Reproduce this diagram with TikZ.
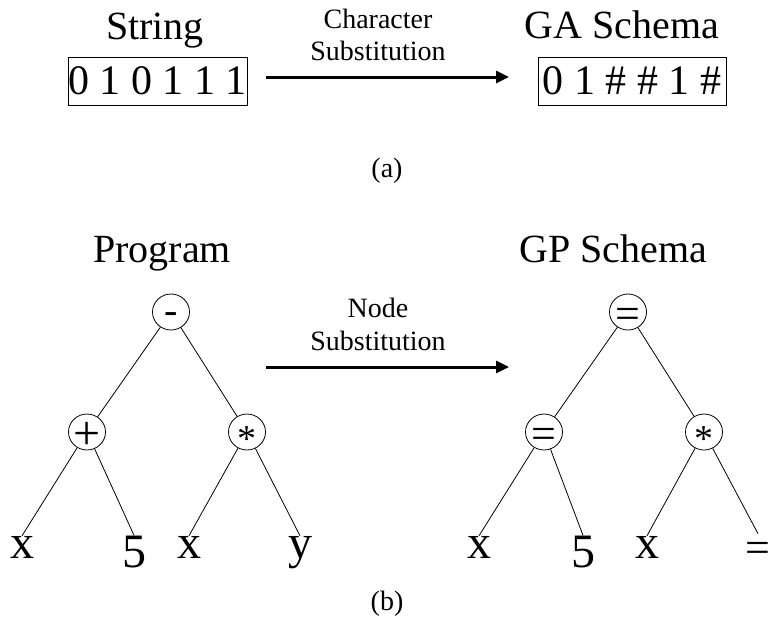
\documentclass[tikz,border=0pt]{standalone}
\usepackage{fontspec}
\setmainfont{Liberation Serif}
\usetikzlibrary{arrows.meta,shapes.geometric}
\newcommand{\sym}[3]{\makebox[0pt]{\fontsize{#1}{#1}\selectfont\raisebox{#2}[0pt][0pt]{#3}}}
\tikzset{
  big/.style={font=\fontsize{40}{46}\selectfont, inner sep=0pt, anchor=base},
  mid/.style={font=\fontsize{28}{32}\selectfont, inner sep=0pt, anchor=base},
  bits/.style={draw, line width=1pt, font=\fontsize{42}{48}\selectfont, inner sep=0pt, minimum height=48pt},
  tnode/.style={draw, ellipse, line width=0.8pt, minimum width=37pt, minimum height=36pt, inner sep=0pt},
  leaf/.style={font=\fontsize{48}{54}\selectfont, inner sep=0pt, anchor=base},
  edge/.style={line width=0.8pt},
  bigarrow/.style={line width=3pt, -{Triangle[length=13pt,width=12pt]}}
}
\begin{document}
\begin{tikzpicture}[x=1pt,y=-1pt]
\useasboundingbox (0,0) rectangle (771,624);
% (a)
\node[big] (str) at (155,39) {String};
\node[big] (gas) at (622,38) {GA Schema};
\node[mid] (ch) at (378,28) {Character};
\node[mid] (sub1) at (378,60) {Substitution};
\node[bits, minimum width=179pt] (s1) at (157.5,81) {0 1 0 1 1 1};
\node[bits, minimum width=188pt] (s2) at (632,81) {0 1 \# \# 1 \#};
\coordinate (a1) at (266,77);
\coordinate (a2) at (509,77);
\draw[bigarrow] (a1) -- (a2);
\node[mid] (capa) at (387,177) {(a)};
% (b)
\node[big] (prog) at (162,262) {Program};
\node[big] (gps) at (613,262) {GP Schema};
\node[mid] (nd) at (378,317) {Node};
\node[mid] (sub2) at (378,350) {Substitution};
\coordinate (b1) at (266,367);
\coordinate (b2) at (509,367);
\draw[bigarrow] (b1) -- (b2);
% program tree
\node[tnode] (r) at (171,312) {\sym{40}{-0.28em}{-}};
\node[tnode] (p) at (87,432) {\sym{48}{-0.37em}{+}};
\node[tnode] (m) at (247,432) {\sym{38}{-0.5em}{*}};
\node[leaf] (x1) at (22,558) {x};
\node[leaf] (f1) at (134,567) {5};
\node[leaf] (x2) at (189,558) {x};
\node[leaf] (y1) at (300,558) {y};
\draw[edge] (r) -- (p);
\draw[edge] (r) -- (m);
\draw[edge] (p) -- (x1.north);
\draw[edge] (p) -- (f1.north);
\draw[edge] (m) -- (x2.north);
\draw[edge] (m) -- (y1.north);
% schema tree
\node[tnode] (gr) at (628,312) {\sym{44}{-0.38em}{=}};
\node[tnode] (ge) at (544,432) {\sym{44}{-0.38em}{=}};
\node[tnode] (gm) at (704,432) {\sym{38}{-0.5em}{*}};
\node[leaf] (gx1) at (479,558) {x};
\node[leaf] (gf1) at (583,567) {5};
\node[leaf] (gx2) at (647,558) {x};
\node[leaf, font=\fontsize{44}{50}\selectfont] (geq) at (758,562) {=};
\draw[edge] (gr) -- (ge);
\draw[edge] (gr) -- (gm);
\draw[edge] (ge) -- (gx1.north);
\draw[edge] (ge) -- (gf1.north);
\draw[edge] (gm) -- (gx2.north);
\draw[edge] (gm) -- ([yshift=8pt]geq.north);
\node[mid] (capb) at (387,610) {(b)};
\end{tikzpicture}
\end{document}
